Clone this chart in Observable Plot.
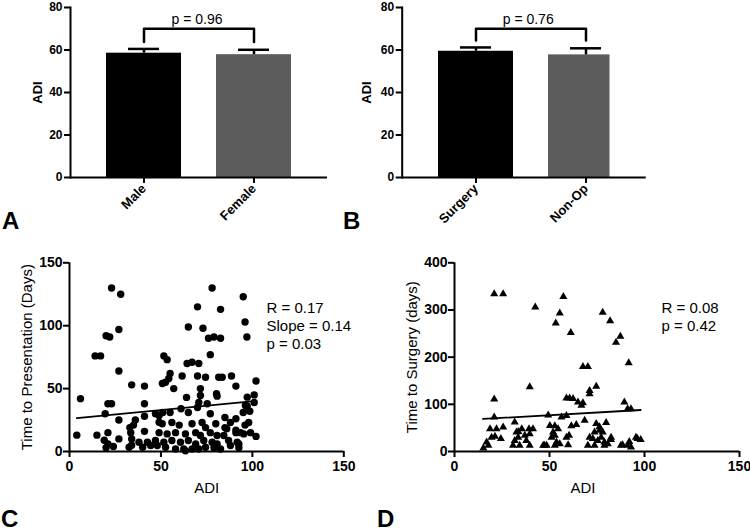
<!DOCTYPE html>
<html><head><meta charset="utf-8">
<script src="https://cdn.jsdelivr.net/npm/d3@7"></script>
<script src="https://cdn.jsdelivr.net/npm/@observablehq/plot@0.6"></script>
<style>
body{margin:0;background:#fff;}
#root{position:relative;width:750px;height:531px;overflow:hidden;font-family:"Liberation Sans",Arial,sans-serif;}
#root > svg{position:absolute;}
</style></head><body><div id="root"></div>
<script>
// ---- Panel A: ADI by sex
const sexGroups = ["Male", "Female"];
const sexMeans = [58.5, 57.8];
const sexErrTop = [60.5, 60.1];
const sexP = "p = 0.96";
const sexBracket = [70, 63.8];
// ---- Panel B: ADI by treatment
const treatGroups = ["Surgery", "Non-Op"];
const treatMeans = [59.4, 57.7];
const treatErrTop = [61.2, 60.8];
const treatP = "p = 0.76";
const treatBracket = [70, 64.5];
const barTicks = [0, 20, 40, 60, 80];
const barColors = ["#000000", "#5c5c5c"];
// ---- Panel C: time to presentation vs ADI
const presADI = [4,6,14,17,15,20,22,23,28,27,27,21,23,19.5,21,19,21,20,24,27,27,34,41,41,41,36,35,33,33.5,34,34,32.6,38,40,42.6,44.4,41,
49,49,47,51,55,61,65,70,77,85,91,95,
50.8,52.5,51.6,53.4,55,54.3,57,61.6,64.3,67,70.7,70,74.4,81.6,83.5,88.6,91,71.6,80.4,80.7,64,71.6,70.7,75.3,96.2,97.2,101,101,102,102,
50.7,56,60,67,72.5,74.4,80,85,91,93.5,98,96,
49,53.4,58,63.4,69,71.6,77,80.7,84.4,95.3,99,91,
47,51.6,56,60.7,65,69,73.4,78,80.7,87,91.7,92.6,88,
52.5,58,62.5,67,74.4,79,82.6,92.6,63.4,70.7,48,
78,95,70,82.6,96,97,65,73,76,79,82.6,77,86,88,98.6,97.2];
const presDays = [13,42,76,76,13,92,91,130,125,97,64,38,38,30,15,9,6,3,4,25,10,53,52,38,28,25,21,19,15,10,5,3.4,7.4,3.4,7.4,4.8,16,
28.6,23.3,30,31,31,34,31,35,30,27,26,31,
54,55,76,73,62,58,50,60,70,71,70,60,59,59,59,60,52,50,46,44,43,44.5,39,38,36.6,43.2,45,39,56,12,
22,23,21,22,23,19,22,19,17,15,23,21,
15,14,15,14,15,12.7,15,12.7,12.7,14,15,15,
8.7,7.4,8.7,7.4,8.7,6,8.7,7.4,6,8.7,7.4,6,4.8,
3.4,2,2,2,3.4,3,2,3,0.5,2,4.8,
130,123,115,113,103,91,99,98,90,91,90,77,18,23,32,36];
const presFit = {adi: [4, 101], days: [26.5, 40]};
const presStats = ["R = 0.17", "Slope = 0.14", "p = 0.03"];
// ---- Panel D: time to surgery vs ADI
const surgADI = [20.9,25.6,42.5,57.3,55.4,53.3,61.2,78,81.9,87.3,85,91.7,39.6,20.9,67.6,70.2,74.6,71.1,71.1,58.9,60.6,62.4,65,66.8,67.6,89.4,91.1,92.9,
20.9,49.3,56.3,58.9,31.7,18.7,22.1,25.6,19.5,21.3,24.4,16.9,17.8,15.2,32.6,33.5,31.7,30.8,34.3,37,39.6,41.3,37.8,39.6,47.4,
50.2,52.8,54.5,51.9,51.1,52.8,53.7,48.5,46.7,52.8,55.4,59.8,58.9,60.3,61.5,64.1,68.5,74.6,76.3,79.8,73.7,76.3,78,71.1,72.8,75.4,77.2,
70.2,73.7,78.9,82.4,80.7,87.6,91.1,92,95.5,98,96.3,92.9,88.5,39.2,35.4,33.6,82.4,78.9];
const surgDays = [334,334,306,328,293,272,252,295,277,244,231,188,137,111,180,180,138,129,122,113,113,112,104.5,97.5,103,104.5,90.5,90.5,
73,77,73,76,62,48,48,51.5,30,32,27,20,13,7,41,30,23,13,13,34,37.5,48,23,13,13,
55,54,48,41,30,34,20,13,13,13,16,14,30,34,54,57,66,59,52,61,41,44.5,41,30,27,23,30,
13,13,13,25,16,13,13,21,30,25,27,9,14,48,48,42,30,20];
const surgFit = {adi: [15, 98], days: [69, 88]};
const surgStats = ["R = 0.08", "p = 0.42"];

const FONT = '"Liberation Sans", Arial, sans-serif';
const root = document.getElementById("root");
function place(svg, left, top) {
  svg.style.left = left + "px"; svg.style.top = top + "px";
  root.appendChild(svg);
}

function barPanel(o) {
  const rows = o.groups.map((g, i) => ({g, m: o.means[i], e: o.errTop[i]}));
  const br = [
    {g: o.groups[0], v: o.bracket[1]}, {g: o.groups[0], v: o.bracket[0]},
    {g: o.groups[1], v: o.bracket[0]}, {g: o.groups[1], v: o.bracket[1]}];
  return Plot.plot({
    width: o.width, height: 250,
    marginLeft: o.ml, marginRight: o.mr, marginTop: 7, marginBottom: 73,
    style: {fontFamily: FONT, fontWeight: "bold", color: "#000", background: "transparent", overflow: "visible"},
    x: {type: "band", domain: o.groups, paddingInner: o.pi, paddingOuter: o.po, align: o.align, axis: null},
    y: {domain: [0, 80], axis: null},
    color: {domain: o.groups, range: barColors},
    marks: [
      Plot.barY(rows.slice(0, 1), {x: "g", y: "m", fill: "g"}),
      Plot.barY(rows.slice(1), {x: "g", y: "m", fill: "g", insetRight: o.inset2 || 0}),
      Plot.ruleX(rows, {x: "g", y1: "m", y2: "e", strokeWidth: 2.5}),
      Plot.tickY(rows, {x: "g", y: "e", strokeWidth: 2.5, insetLeft: 22, insetRight: 22}),
      Plot.line(br, {x: "g", y: "v", strokeWidth: 2.5}),
      Plot.text([o.p], {text: d => d, y: o.bracket[0] + 2.2, dx: o.pdx, lineAnchor: "bottom", fontSize: 14, fontWeight: "normal"}),
      Plot.ruleY([0], {strokeWidth: 2}),
      Plot.frame({anchor: "left", strokeWidth: 2}),
      Plot.axisY({ticks: barTicks, tickSize: 6, tickPadding: 2, fontSize: 12, fontWeight: "bold", strokeWidth: 2, label: null}),
      Plot.axisX({tickSize: 6, tickPadding: 3, tickRotate: -45, fontSize: 13, fontWeight: "bold", strokeWidth: 2, label: null}),
      Plot.text(["ADI"], {text: d => d, frameAnchor: "left", dx: o.tdx, rotate: -90, textAnchor: "middle", lineAnchor: "middle", fontSize: 13, fontWeight: "bold"})
    ]
  });
}

function scatterPanel(o) {
  const idx = o.xs.map((_, i) => i);
  const fit = o.fit.adi.map((a, i) => ({a, d: o.fit.days[i]}));
  return Plot.plot({
    width: 375, height: 281,
    marginLeft: o.ml, marginRight: o.mr, marginTop: 12.3, marginBottom: 80,
    style: {fontFamily: FONT, fontWeight: "bold", color: "#000", background: "transparent", overflow: "visible"},
    x: {domain: [0, 150], axis: null},
    y: {domain: [0, o.ymax], axis: null},
    marks: [
      Plot.dot(idx, {x: i => o.xs[i], y: i => o.ys[i], r: o.r, symbol: o.symbol, fill: "#000", stroke: null}),
      Plot.line(fit, {x: "a", y: "d", strokeWidth: 1.8}),
      Plot.ruleX([0], {strokeWidth: 2}),
      Plot.ruleY([0], {strokeWidth: 2}),
      Plot.axisX({ticks: [0, 50, 100, 150], tickSize: 6, tickPadding: 4, fontSize: 14, fontWeight: "bold", strokeWidth: 2, label: null}),
      Plot.axisY({ticks: o.yticks, tickSize: 6, tickPadding: 1, fontSize: 14, fontWeight: "bold", strokeWidth: 2, label: null}),
      Plot.text([o.stats.join("\n")], {text: d => d, frameAnchor: "top-left", dx: o.sdx, dy: 37, textAnchor: "start", lineAnchor: "top", lineHeight: 1.22, fontSize: 15, fontWeight: "normal"}),
      Plot.text([o.ylabel], {text: d => d, frameAnchor: "left", dx: -42.3, rotate: -90, textAnchor: "middle", lineAnchor: "middle", fontSize: 15, fontWeight: "normal"}),
      Plot.text(["ADI"], {text: d => d, frameAnchor: "bottom", dx: o.xdx, dy: 37, textAnchor: "middle", lineAnchor: "middle", fontSize: 15, fontWeight: "normal"})
    ]
  });
}

place(barPanel({width: 345, ml: 70, mr: 18, groups: sexGroups, means: sexMeans, errTop: sexErrTop,
  bracket: sexBracket, p: sexP, pdx: -2, pi: 0.318, po: 0.327, align: 0.5, tdx: -33}), 0, 0);
place(barPanel({width: 405, ml: 56.7, mr: 104.3, groups: treatGroups, means: treatMeans, errTop: treatErrTop,
  bracket: treatBracket, p: treatP, pdx: 4, pi: 0.317, po: 0.26, align: 0.615, tdx: -35, inset2: 13.5}), 345, 0);
place(scatterPanel({xs: presADI, ys: presDays, ymax: 150, yticks: [0, 50, 100, 150], r: 3.7, symbol: "circle",
  fit: presFit, stats: presStats, sdx: 197, ylabel: "Time to Presentation (Days)", ml: 69, mr: 31.7, xdx: 0}), 0, 250);
place(scatterPanel({xs: surgADI, ys: surgDays, ymax: 400, yticks: [0, 100, 200, 300, 400], r: 3, symbol: "triangle",
  fit: surgFit, stats: surgStats, sdx: 207, ylabel: "Time to Surgery (days)", ml: 79, mr: 11, xdx: -14}), 375, 250);

// panel letters
const letters = [["A", 2, 229], ["B", 343, 229], ["C", 1, 527], ["D", 377, 527]];
const ov = d3.create("svg").attr("width", 750).attr("height", 531).style("left", "0px").style("top", "0px").style("pointer-events", "none");
ov.selectAll("text").data(letters).join("text")
  .attr("x", d => d[1]).attr("y", d => d[2]).text(d => d[0])
  .attr("font-family", FONT).attr("font-weight", "bold").attr("font-size", 24).attr("fill", "#000");
root.appendChild(ov.node());
</script></body></html>
